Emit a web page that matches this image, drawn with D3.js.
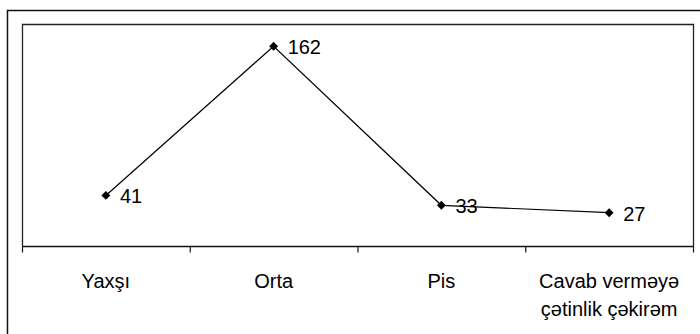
<!DOCTYPE html>
<html>
<head>
<meta charset="utf-8">
<script src="https://cdn.jsdelivr.net/npm/d3@7"></script>
<style>
  html, body { margin: 0; padding: 0; background: #fff; }
  svg { display: block; }
  text { font-family: "Liberation Sans", Arial, sans-serif; fill: #000; }
</style>
</head>
<body>
<svg id="chart" width="700" height="334"></svg>
<script>
const categories = ["Yaxşı", "Orta", "Pis", "Cavab verməyə|çətinlik çəkirəm"];
const values = [41, 162, 33, 27];
const yDomain = [0, 180];

const svg = d3.select("#chart");
const W = 700, H = 334;
const margin = { left: 22, right: 7, top: 24, bottom: 88 };
const x0 = margin.left, x1 = W - margin.right;
const yTop = margin.top, yBot = H - margin.bottom;

// outer frame
svg.append("path")
  .attr("d", `M7.5,${H} V10.5 H${W}`)
  .attr("fill", "none").attr("stroke", "#111").attr("stroke-width", 1.5);

// plot area frame (top, left, right)
svg.append("path")
  .attr("d", `M${x0 + 0.5},${yBot} V${yTop + 0.5} H${x1 + 0.5} V${yBot}`)
  .attr("fill", "none").attr("stroke", "#222").attr("stroke-width", 1.3);

const x = d3.scaleBand().domain(categories).range([x0, x1]).padding(0);
const y = d3.scaleLinear().domain(yDomain).range([yBot, yTop]);

// x axis with ticks at category boundaries
const axisG = svg.append("g").attr("transform", `translate(0,${yBot + 0.5})`);
axisG.append("line").attr("x1", x0).attr("x2", x1 + 1)
  .attr("stroke", "#111").attr("stroke-width", 1.3);
const bounds = categories.map(c => x(c)).concat([x1]);
axisG.selectAll("line.tick").data(bounds).join("line")
  .attr("class", "tick")
  .attr("x1", d => d + 0.5).attr("x2", d => d + 0.5)
  .attr("y1", 0).attr("y2", 6)
  .attr("stroke", "#111").attr("stroke-width", 1.2);

// category labels
const lab = svg.append("g");
categories.forEach(c => {
  const lines = c.split("|");
  const t = lab.append("text")
    .attr("x", x(c) + x.bandwidth() / 2)
    .attr("y", 288)
    .attr("text-anchor", "middle")
    .attr("font-size", 20);
  lines.forEach((ln, i) => {
    t.append("tspan").attr("x", x(c) + x.bandwidth() / 2)
      .attr("dy", i === 0 ? 0 : 28).text(ln);
  });
});

// line
const pts = categories.map((c, i) => [x(c) + x.bandwidth() / 2, y(values[i])]);
svg.append("path")
  .datum(pts)
  .attr("d", d3.line())
  .attr("fill", "none").attr("stroke", "#000").attr("stroke-width", 1.2);

// diamond markers
svg.selectAll("path.marker").data(pts).join("path")
  .attr("class", "marker")
  .attr("d", d3.symbol(d3.symbolDiamond2, 50))
  .attr("transform", d => `translate(${d[0]},${d[1]})`)
  .attr("fill", "#000");

// value labels
svg.selectAll("text.val").data(values).join("text")
  .attr("class", "val")
  .attr("x", (d, i) => pts[i][0] + 14)
  .attr("y", (d, i) => pts[i][1] + 8)
  .attr("font-size", 20)
  .text(d => d);
</script>
</body>
</html>
